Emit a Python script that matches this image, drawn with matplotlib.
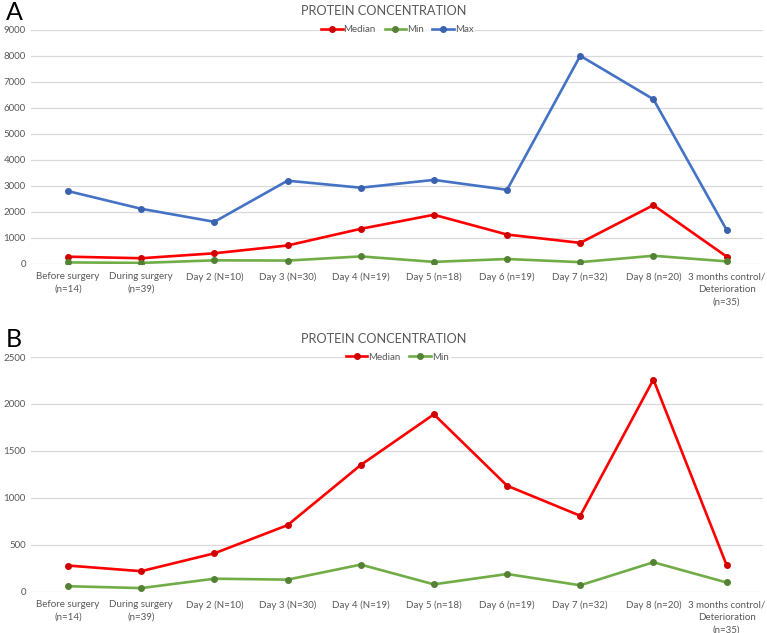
import matplotlib
matplotlib.use("Agg")
import matplotlib.pyplot as plt


CATEGORIAS = [
    "Before surgery\n(n=14)",
    "During surgery\n(n=39)",
    "Day 2 (N=10)",
    "Day 3 (N=30)",
    "Day 4 (N=19)",
    "Day 5 (n=18)",
    "Day 6 (n=19)",
    "Day 7 (n=32)",
    "Day 8 (n=20)",
    "3 months control/\nDeterioration\n(n=35)",
]
MEDIANA = [280, 220, 410, 710, 1350, 1890, 1130, 810, 2260, 285]
MINIMO = [60, 40, 140, 130, 290, 80, 190, 70, 315, 100]
MAXIMO = [2800, 2120, 1620, 3200, 2930, 3230, 2850, 8000, 6330, 1310]

TICKS_A = [0, 1000, 2000, 3000, 4000, 5000, 6000, 7000, 8000, 9000]
TICKS_B = [0, 500, 1000, 1500, 2000, 2500]

VERMELHO = "#FF0000"
VERDE = "#70AD47"
AZUL = "#4472C4"
CINZA = "#595959"
GRADE = "#D9D9D9"

plt.rcParams["font.family"] = ["Lato", "DejaVu Sans"]


def desenhar(ax, series, ticks, titulo, letra, fig):
    x = list(range(len(CATEGORIAS)))
    linhas = []
    for nome, valores, cor, borda in series:
        (ln,) = ax.plot(x, valores, color=cor, lw=1.9, marker="o", ms=4,
                        mfc=borda, mec=borda, label=nome, zorder=3)
        linhas.append(ln)

    ax.set_xlim(-0.5, len(CATEGORIAS) - 0.5)
    ax.set_ylim(ticks[0], ticks[-1])
    ax.set_yticks(ticks)
    ax.set_xticks(x)
    ax.set_xticklabels(CATEGORIAS, fontsize=7, color=CINZA, linespacing=1.5)
    ax.tick_params(axis="y", labelsize=7, labelcolor=CINZA, length=0, pad=4)
    ax.tick_params(axis="x", length=0, pad=6)
    ax.grid(axis="y", color=GRADE, lw=0.9)
    ax.set_axisbelow(True)
    for lado in ["top", "right", "left", "bottom"]:
        ax.spines[lado].set_visible(False)

    pos = ax.get_position()
    fig.text(0.5, pos.y1 + 0.029, titulo, ha="center", va="center",
             fontsize=9.2, color=CINZA)
    fig.text(0.008, pos.y1 + 0.028, letra, ha="left", va="center",
             fontsize=18, color="black")
    leg = ax.legend(handles=linhas, loc="center", bbox_to_anchor=(0.5, 1.0),
                    ncol=len(linhas), frameon=True, fontsize=7,
                    handlelength=2.2, handletextpad=0.1, columnspacing=0.9,
                    borderpad=0.1)
    leg.get_frame().set_facecolor("white")
    leg.get_frame().set_edgecolor("white")
    for t in leg.get_texts():
        t.set_color(CINZA)


fig = plt.figure(figsize=(7.67, 6.33), dpi=100)
ax_a = fig.add_axes([0.041, 0.583, 0.954, 0.370])
ax_b = fig.add_axes([0.041, 0.065, 0.954, 0.371])

desenhar(ax_a, [("Median", MEDIANA, VERMELHO, "#D00000"),
                ("Min", MINIMO, VERDE, "#548235"),
                ("Max", MAXIMO, AZUL, "#3A62AE")],
         TICKS_A, "PROTEIN CONCENTRATION", "A", fig)
desenhar(ax_b, [("Median", MEDIANA, VERMELHO, "#D00000"),
                ("Min", MINIMO, VERDE, "#548235")],
         TICKS_B, "PROTEIN CONCENTRATION", "B", fig)

fig.savefig("out.png", dpi=100)
